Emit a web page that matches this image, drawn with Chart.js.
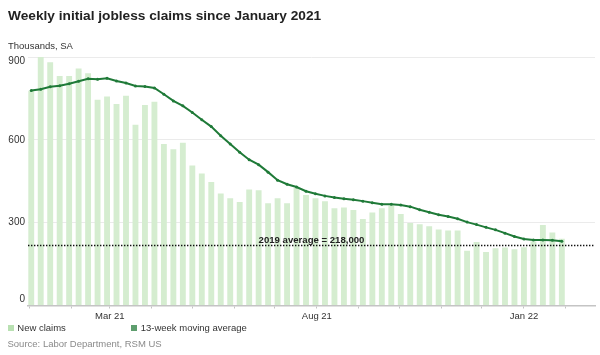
<!DOCTYPE html>
<html>
<head>
<meta charset="utf-8">
<script src="https://cdn.jsdelivr.net/npm/chart.js@4.4.1/dist/chart.umd.min.js"></script>
<style>
  html, body { margin: 0; padding: 0; background: #fff; }
  body { width: 600px; height: 355px; position: relative; overflow: hidden; font-family: 'Liberation Sans', Arial, sans-serif; }
  #wrap { position: absolute; left: 0; top: 0; width: 600px; height: 355px; }
  .t { position: absolute; line-height: 1; white-space: nowrap; }
  #title { left: 8px; top: 8.8px; font-size: 13.7px; font-weight: bold; color: #222; }
  #sub { left: 8px; top: 41px; font-size: 9.5px; color: #333; }
  #legend { left: 0; top: 323px; font-size: 9.5px; color: #333; }
  .sw { position: absolute; width: 6px; height: 6px; top: 1.5px; }
  #source { left: 7.5px; top: 338.6px; font-size: 9.5px; color: #8a8a8a; }
</style>
</head>
<body>
<div id="wrap"><canvas id="c" width="600" height="355"></canvas></div>
<div class="t" id="title">Weekly initial jobless claims since January 2021</div>
<div class="t" id="sub">Thousands, SA</div>
<div class="t" id="legend">
  <span class="sw" style="left:7.5px;background:#b9e1b2"></span><span class="t" style="left:17.3px;top:0">New claims</span>
  <span class="sw" style="left:131px;background:#5e9e6e"></span><span class="t" style="left:140.7px;top:0">13-week moving average</span>
</div>
<div class="t" id="source">Source: Labor Department, RSM US</div>
<script>
// Week-ending dates
const weeks = [
  '2021-01-02','2021-01-09','2021-01-16','2021-01-23','2021-01-30',
  '2021-02-06','2021-02-13','2021-02-20','2021-02-27',
  '2021-03-06','2021-03-13','2021-03-20','2021-03-27',
  '2021-04-03','2021-04-10','2021-04-17','2021-04-24',
  '2021-05-01','2021-05-08','2021-05-15','2021-05-22','2021-05-29',
  '2021-06-05','2021-06-12','2021-06-19','2021-06-26',
  '2021-07-03','2021-07-10','2021-07-17','2021-07-24','2021-07-31',
  '2021-08-07','2021-08-14','2021-08-21','2021-08-28',
  '2021-09-04','2021-09-11','2021-09-18','2021-09-25',
  '2021-10-02','2021-10-09','2021-10-16','2021-10-23','2021-10-30',
  '2021-11-06','2021-11-13','2021-11-20','2021-11-27',
  '2021-12-04','2021-12-11','2021-12-18','2021-12-25',
  '2022-01-01','2022-01-08','2022-01-15','2022-01-22','2022-01-29'
];
// New claims, thousands
const newClaims = [
  778, 900, 881, 831, 831, 858, 841, 745, 757, 730,
  760, 655, 726, 738, 585, 566, 589, 507, 478, 447,
  406, 388, 375, 420, 417, 370, 388, 370, 426, 400,
  388, 378, 352, 355, 346, 313, 337, 352, 362, 331,
  299, 294, 287, 275, 272, 272, 198, 230, 194, 207,
  210, 204, 211, 232, 292, 264, 242
];
// 13-week moving average, thousands
const movingAvg = [
  779, 783, 792, 796, 803, 812, 821, 819, 823, 813,
  806, 795, 793, 788, 765, 741, 723, 699, 673, 648,
  615, 585, 555, 528, 510, 483, 454, 439, 429, 414,
  405, 397, 391, 387, 383, 378, 372, 367, 367, 364,
  358, 347, 338, 329, 322, 314, 302, 293, 283, 274,
  262, 250, 241, 237, 237, 236, 233
];
// Month ticks on the x axis and their labels
const tickMonths = [
  '2021-01-01','2021-02-01','2021-03-01','2021-04-01','2021-05-01','2021-06-01',
  '2021-07-01','2021-08-01','2021-09-01','2021-10-01','2021-11-01','2021-12-01',
  '2022-01-01','2022-02-01'
];
const tickLabels = ['', '', 'Mar 21', '', '', '', '', 'Aug 21', '', '', '', '', 'Jan 22', ''];
const yTicks = [0, 300, 600, 900];
const avg2019 = 218;
const avgLabel = '2019 average = 218,000';

const ORIGIN = Date.UTC(2021, 0, 1);
function dayOf(s) {
  const [y, m, d] = s.split('-').map(Number);
  return (Date.UTC(y, m - 1, d) - ORIGIN) / 86400000;
}
const xs = weeks.map(dayOf);
const tickDays = tickMonths.map(dayOf);

const FONT = "'Liberation Sans', Arial, sans-serif";

// y-axis labels kept inside the plot's vertical span (top label below its line, bottom label above)
const yLabels = {
  id: 'yLabels',
  afterDraw(chart) {
    const { ctx, chartArea: a, scales: { y } } = chart;
    ctx.save();
    ctx.fillStyle = '#333';
    ctx.font = '10px ' + FONT;
    ctx.textAlign = 'right';
    ctx.textBaseline = 'middle';
    y.ticks.forEach(t => {
      let py = y.getPixelForValue(t.value);
      py = Math.max(a.top + 4.5, Math.min(a.bottom - 6.5, py));
      ctx.fillText(String(t.value), a.left - 3, py);
    });
    ctx.restore();
  }
};

const refLine = {
  id: 'refLine',
  afterDatasetsDraw(chart) {
    const { ctx, chartArea: a, scales: { y } } = chart;
    const py = Math.round(y.getPixelForValue(avg2019)) + 0.5;
    ctx.save();
    ctx.strokeStyle = '#111';
    ctx.lineWidth = 1.4;
    ctx.setLineDash([1.4, 1.6]);
    ctx.beginPath();
    ctx.moveTo(a.left, py);
    ctx.lineTo(a.right, py);
    ctx.stroke();
    ctx.setLineDash([]);
    ctx.fillStyle = '#222';
    ctx.font = 'bold 9.6px ' + FONT;
    ctx.textAlign = 'center';
    ctx.textBaseline = 'alphabetic';
    ctx.fillText(avgLabel, (a.left + a.right) / 2, py - 2.5);
    ctx.restore();
  }
};

new Chart(document.getElementById('c'), {
  type: 'bar',
  data: {
    datasets: [
      {
        type: 'line',
        label: '13-week moving average',
        data: xs.map((x, i) => ({ x, y: movingAvg[i] })),
        borderColor: '#1f7a38',
        backgroundColor: '#1f7a38',
        borderWidth: 2,
        pointRadius: 1.5,
        pointHoverRadius: 1.5,
        pointBorderWidth: 0,
        tension: 0,
        order: 0
      },
      {
        type: 'bar',
        label: 'New claims',
        data: xs.map((x, i) => ({ x, y: newClaims[i] })),
        backgroundColor: '#d5edd0',
        borderWidth: 0,
        barPercentage: 0.62,
        categoryPercentage: 1,
        order: 1
      }
    ]
  },
  options: {
    responsive: false,
    animation: false,
    events: [],
    layout: { padding: { top: 57, left: 0, right: 5, bottom: 0 } },
    plugins: { legend: { display: false }, tooltip: { enabled: false }, title: { display: false } },
    scales: {
      x: {
        type: 'linear',
        min: -1.4,
        max: 417.5,
        offset: false,
        afterFit(s) { s.height = 49.5; },
        afterBuildTicks(s) { s.ticks = tickDays.map(v => ({ value: v })); },
        grid: { display: true, drawOnChartArea: false, drawTicks: true, tickLength: 3, color: '#c4c4c4', offset: false },
        border: { display: true, color: '#c4c4c4', width: 1.5 },
        ticks: {
          autoSkip: false,
          maxRotation: 0,
          minRotation: 0,
          padding: 2,
          color: '#333',
          font: { family: FONT, size: 9.5 },
          callback(value, index) { return tickLabels[index]; }
        }
      },
      y: {
        min: 0,
        max: 900,
        afterFit(s) { s.width = 28; },
        afterBuildTicks(s) { s.ticks = yTicks.map(v => ({ value: v })); },
        grid: { color: '#ebebeb', lineWidth: 1, drawTicks: false },
        border: { display: false },
        ticks: { display: false }
      }
    }
  },
  plugins: [refLine, yLabels]
});
</script>
</body>
</html>
